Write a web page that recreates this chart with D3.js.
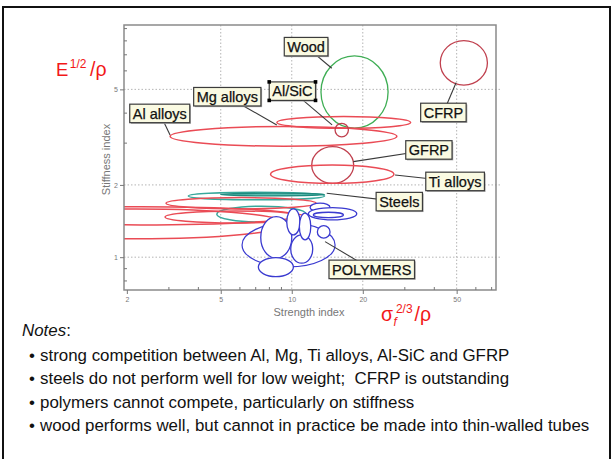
<!DOCTYPE html>
<html><head><meta charset="utf-8">
<script src="https://cdn.jsdelivr.net/npm/d3@7"></script>
<style>body{margin:0;background:#fff}svg{display:block}text{white-space:pre}</style>
</head><body>
<svg id="c" width="613" height="459"></svg>
<script>
// ---------------- DATA ----------------
// Material property ellipses (strength index x, stiffness index y; data bounds)
const ellName   = ["Wood","CFRP","Mg alloys","Al alloys","Al/SiC","GFRP","Ti alloys",
                   "Steels","Steels core","Cast irons","Metal A","Metal B","Metal C","Metal D",
                   "Polymer envelope","Polymer 1","Polymer 2","Polymer 3","Polymer 4","Polymer 5",
                   "Polymer 6","Polymer 7","Polymer 8","Polymer 9"];
const ellFamily = ["natural","composite","metal","metal","composite","composite","metal",
                   "steel","steelCore","steel","metal","metal","metal","metal",
                   "polyEnv","polymer","polymer","polymer","polymer","polymer",
                   "polymer","polymer","polymer","polymer"];
const strengthLo = [13.3,42.6,8.65,3.05,15.26,12.15,8.13, 3.645,5.0,4.81,0.5,0.5,2.904,2.932,
                    6.156,7.389,7.218,9.90,9.524,10.77,12.84,11.96,11.76,12.35];
const strengthHi = [25.6,67.5,31.9,27.9,17.38,18.3,27.1, 13.77,13.77,11.5,10.5,9.5,11.5,12.68,
                    15.26,10.0,10.16,12.27,10.84,12.04,14.53,14.53,18.86,16.55];
const stiffLo    = [3.45,5.21,3.44,2.90,3.17,2.03,2.03, 1.733,1.80,1.40,1.363,1.192,1.389,1.589,
                    0.911,0.9905,0.830,0.944,1.238,1.180,1.200,1.548,1.430,1.462];
const stiffHi    = [6.89,7.98,3.85,3.50,3.61,2.886,2.42, 1.865,1.847,1.63,1.624,1.589,1.559,1.771,
                    1.389,1.476,0.9962,1.238,1.589,1.525,1.354,1.678,1.609,1.539];

// Labels (data coordinates of box centre, and of leader-line target)
const labelText = ["Wood","Mg alloys","Al/SiC","Al alloys","CFRP","GFRP","Ti alloys","Steels","POLYMERS"];
const labelX    = [11.50,5.33,10.06,2.757,43.93,38.13,49.24,28.56,21.83];
const labelY    = [7.53,4.66,4.915,3.97,4.007,2.797,2.068,1.704,0.8897];
const leaderX   = [14.78,8.64,14.82,3.049,49.7,18.24,27.41,14.07,13.84];
const leaderY   = [6.12,3.555,3.555,3.23,5.33,2.50,2.20,1.847,1.161];
const selectedLabel = "Al/SiC";

// Axes
const xMajorTicks = [2,5,10,20,50];
const xMinorTicks = [3,4,6,7,8,9,30,40,60,70];
const yMajorTicks = [1,2,5];
const yMinorTicks = [0.8,0.9,3,4,6,7,8,9];
const xTitle = "Strength index";
const yTitle = "Stiffness index";

const notes = [
  "strong competition between Al, Mg, Ti alloys, Al-SiC and GFRP",
  "steels do not perform well for low weight;  CFRP is outstanding",
  "polymers cannot compete, particularly on stiffness",
  "wood performs well, but cannot in practice be made into thin-walled tubes"
];

// ---------------- STYLE / LAYOUT ----------------
const FONT = "'Liberation Sans', Arial, sans-serif";
const styles = {
  natural:   {stroke:"#3fae55", fill:"none", w:1.3},
  composite: {stroke:"#c0404e", fill:"none", w:1.3},
  metal:     {stroke:"#ea4b55", fill:"none", w:1.5},
  steel:     {stroke:"#38a89c", fill:"none", w:1.5},
  steelCore: {stroke:"#1f8a7e", fill:"#5cbcb0", w:1.3},
  polyEnv:   {stroke:"#3a3ad0", fill:"none", w:1.2},
  polymer:   {stroke:"#3a3ad0", fill:"#ffffff", w:1.3}
};
const P = {l:124, r:496, t:25, b:290};
const svg = d3.select("#c");

// page frame
svg.append("rect").attr("x",3).attr("y",7).attr("width",607).attr("height",470)
  .attr("fill","none").attr("stroke","#111").attr("stroke-width",2);

const x = d3.scaleLog().domain([1.945,73.4]).range([P.l,P.r]);
const y = d3.scaleLog().domain([0.73,9.27]).range([P.b,P.t]);

// gridlines
const grid = svg.append("g").attr("stroke","#b4b4b4").attr("stroke-width",1).attr("stroke-dasharray","1.5,2");
grid.selectAll("line.gx").data(xMajorTicks.filter(d=>d>2)).join("line")
  .attr("x1",d=>x(d)).attr("x2",d=>x(d)).attr("y1",P.t).attr("y2",P.b);
grid.selectAll("line.gy").data(yMajorTicks).join("line")
  .attr("y1",d=>y(d)).attr("y2",d=>y(d)).attr("x1",P.l).attr("x2",P.r+4);

// clip
svg.append("clipPath").attr("id","clip").append("rect")
  .attr("x",P.l).attr("y",P.t).attr("width",P.r-P.l).attr("height",P.b-P.t);

const ells = ellName.map((n,i)=>({n, f:ellFamily[i], x0:strengthLo[i], x1:strengthHi[i], y0:stiffLo[i], y1:stiffHi[i]}));
svg.append("g").attr("clip-path","url(#clip)")
  .selectAll("ellipse").data(ells).join("ellipse")
  .attr("cx",d=>(x(d.x0)+x(d.x1))/2).attr("cy",d=>(y(d.y0)+y(d.y1))/2)
  .attr("rx",d=>Math.abs(x(d.x1)-x(d.x0))/2).attr("ry",d=>Math.abs(y(d.y0)-y(d.y1))/2)
  .attr("fill",d=>styles[d.f].fill).attr("stroke",d=>styles[d.f].stroke)
  .attr("stroke-width",d=>styles[d.f].w);

// frame of plot
svg.append("rect").attr("x",P.l).attr("y",P.t).attr("width",P.r-P.l).attr("height",P.b-P.t)
  .attr("fill","none").attr("stroke","#8a8a8a").attr("stroke-width",1.5);

// axes
function styleAxis(g){ g.select(".domain").remove(); g.selectAll("line").attr("stroke","#777");
  g.selectAll("text").attr("fill","#777").attr("font-size","7px").attr("font-family",FONT); }
svg.append("g").attr("transform",`translate(0,${P.b})`)
  .call(d3.axisBottom(x).tickValues(xMajorTicks).tickFormat(d3.format("d")).tickSize(4).tickPadding(3)).call(styleAxis);
svg.append("g").attr("transform",`translate(0,${P.b})`)
  .call(d3.axisBottom(x).tickValues(xMinorTicks).tickFormat("").tickSize(-3)).call(styleAxis);
svg.append("g").attr("transform",`translate(${P.l},0)`)
  .call(d3.axisLeft(y).tickValues(yMajorTicks).tickFormat(d3.format("d")).tickSize(4).tickPadding(2)).call(styleAxis);
svg.append("g").attr("transform",`translate(${P.l},0)`)
  .call(d3.axisLeft(y).tickValues(yMinorTicks).tickFormat("").tickSize(-3)).call(styleAxis);

svg.append("text").attr("x",(P.l+P.r)/2-1).attr("y",316).attr("text-anchor","middle")
  .attr("font-family",FONT).attr("font-size","11px").attr("fill","#777").text(xTitle);
svg.append("text").attr("transform",`translate(110,${(P.t+P.b)/2+2}) rotate(-90)`).attr("text-anchor","middle")
  .attr("font-family",FONT).attr("font-size","11px").attr("fill","#777").text(yTitle);

// leader lines
const labs = labelText.map((t,i)=>({t, lx:labelX[i], ly:labelY[i], tx:leaderX[i], ty:leaderY[i]}));
svg.append("g").selectAll("line").data(labs).join("line")
  .attr("x1",d=>x(d.lx)).attr("y1",d=>y(d.ly)).attr("x2",d=>x(d.tx)).attr("y2",d=>y(d.ty))
  .attr("stroke","#3a3a3a").attr("stroke-width",1.1);

// label boxes
const lg = svg.append("g").selectAll("g").data(labs).join("g")
  .attr("transform",d=>`translate(${x(d.lx)},${y(d.ly)})`);
lg.each(function(d){
  const g = d3.select(this);
  const t = g.append("text").attr("text-anchor","middle").attr("dy","0.36em")
    .attr("font-family",FONT).attr("font-size","14.5px").attr("fill","#111")
    .attr("stroke","#111").attr("stroke-width",0.25).text(d.t);
  const w = t.node().getComputedTextLength()+6, h = 18.5;
  g.insert("rect","text").attr("x",-w/2+1.2).attr("y",-h/2+1.2).attr("width",w).attr("height",h).attr("fill","#aaa");
  g.insert("rect","text").attr("x",-w/2).attr("y",-h/2).attr("width",w).attr("height",h)
    .attr("fill","#fafae2").attr("stroke","#3c3c3c").attr("stroke-width",1.2);
  if(d.t===selectedLabel){
    [[-w/2,-h/2],[w/2,-h/2],[-w/2,h/2],[w/2,h/2]].forEach(([a,b])=>
      g.append("rect").attr("x",a-1.8).attr("y",b-1.8).attr("width",3.6).attr("height",3.6).attr("fill","#000"));
  }
});

// red index labels
const red = "#f21818";
const e = svg.append("text").attr("font-family",FONT).attr("fill",red).attr("x",56).attr("y",75.5).attr("font-size","18.5px");
e.append("tspan").text("E");
e.append("tspan").attr("font-size","12px").attr("dy",-8).attr("dx",1.5).text("1/2");
e.append("tspan").attr("dy",8).attr("dx",3.5).attr("font-size","19.5px").text("/ρ");
const s = svg.append("text").attr("font-family",FONT).attr("fill",red).attr("x",381).attr("y",321).attr("font-size","19.5px");
s.append("tspan").text("σ");
s.append("tspan").attr("font-size","12px").attr("font-style","italic").attr("dy",5).attr("dx",0.5).text("f");
s.append("tspan").attr("font-size","12px").attr("dy",-13).attr("dx",-1).text("2/3");
s.append("tspan").attr("dy",8).attr("dx",2).text("/ρ");

// notes
const nt = svg.append("text").attr("x",22).attr("y",336).attr("font-family",FONT).attr("font-size","16.9px").attr("fill","#111");
nt.append("tspan").attr("font-style","italic").text("Notes");
nt.append("tspan").text(":");
const ng = svg.append("g").attr("font-family",FONT).attr("font-size","16.9px").attr("fill","#111");
ng.selectAll("text.b").data(notes).join("text").attr("class","b").attr("x",29).attr("y",(d,i)=>361+i*23.4).text("•");
ng.selectAll("text.n").data(notes).join("text").attr("class","n").attr("x",40).attr("y",(d,i)=>361+i*23.4).text(d=>d);
</script>
</body></html>
